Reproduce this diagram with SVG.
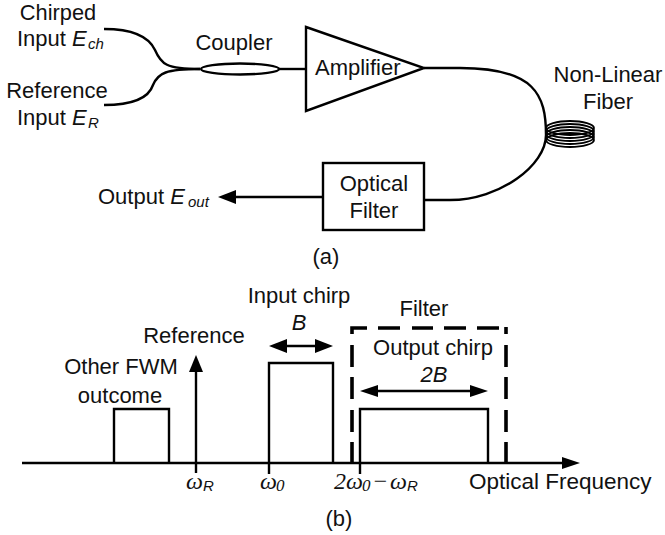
<svg xmlns="http://www.w3.org/2000/svg" width="665" height="535" viewBox="0 0 665 535">
<style>
text{font-family:"Liberation Sans",Arial,sans-serif;font-size:22px;fill:#111}
.m{text-anchor:middle}
.i{font-style:italic}
.s{font-size:15px;font-style:italic}
.g{font-family:"Liberation Serif","Times New Roman",serif;font-style:italic;font-size:24px}
.gs{font-family:"Liberation Serif","Times New Roman",serif;font-style:italic;font-size:17px}
.l{fill:none;stroke:#000;stroke-width:2.4}
.t{fill:none;stroke:#000;stroke-width:1.8}
.d{fill:none;stroke:#000;stroke-width:3.6}
.h{fill:#000;stroke:none}
</style>
<rect width="665" height="535" fill="#fff"/>
<g id="connectors">
<path class="l" d="M104 29C130 29 148 35 155 50C161 64 166 69 200 69"/>
<path class="l" d="M104 105C130 105 148 100 153 85C158 73 166 69 200 69"/>
<path class="l" d="M279 69H306"/>
<path class="l" d="M424 68H460C535 68 546 95 546 135C546 165 500 200 450 200H425"/>
<path class="l" d="M323 197H235"/>
<polygon class="h" points="218,197 236,190 236,204"/>
</g>
<g id="coupler"><ellipse class="l" cx="240" cy="69" rx="39" ry="5.5"/><text class="m" x="234" y="50">Coupler</text></g>
<g id="amplifier"><polygon points="306,27 424,68 306,111" fill="#fff" stroke="#000" stroke-width="2.4"/><text x="315" y="75">Amplifier</text></g>
<g id="fiber">
<ellipse class="t" cx="570" cy="128" rx="24" ry="7"/>
<ellipse class="t" cx="570" cy="131" rx="24" ry="7"/>
<ellipse class="t" cx="570" cy="134" rx="24" ry="7"/>
<ellipse class="t" cx="570" cy="137" rx="24" ry="7"/>
<ellipse class="t" cx="570" cy="140" rx="24" ry="7"/>
<text class="m" x="608" y="82">Non-Linear</text><text class="m" x="608" y="109">Fiber</text>
</g>
<g id="filter"><rect x="323" y="163" width="101" height="67" fill="#fff" stroke="#000" stroke-width="2.4"/><text class="m" x="374" y="191">Optical</text><text class="m" x="374" y="218">Filter</text></g>
<g id="inputs">
<text class="m" x="58" y="20" style="font-size:21.8px">Chirped</text>
<text x="17" y="46">Input <tspan class="i">E</tspan></text><text class="s" x="88" y="49">ch</text>
<text class="m" x="57" y="98">Reference</text>
<text x="17" y="125">Input <tspan class="i">E</tspan></text><text class="s" x="88" y="128">R</text>
</g>
<g id="output"><text x="98" y="204">Output <tspan class="i">E</tspan></text><text class="s" x="188" y="207">out</text></g>
<text class="m" x="326" y="264">(a)</text>
<g id="spectrum">
<path class="l" d="M22 463H565"/><polygon class="h" points="580,463 562,457 562,469"/>
<path class="l" d="M114 463V409H169V463"/>
<path class="l" d="M196 473V368"/><polygon class="h" points="196,355 189,372 203,372"/>
<path class="l" d="M269 474V363H333V463"/>
<path class="l" d="M360 474V409H488V463"/>
<path class="d" d="M352 334V328H367M378 328H400M412 328H433M444 328H466M477 328H499M506 327V334M352 345V367M352 377V399M352 410V432M352 442V464M506 345V367M506 377V399M506 410V432M506 442V464"/>
<path class="l" d="M285 346H318"/><polygon class="h" points="269,346 287,339 287,353"/><polygon class="h" points="333,346 315,339 315,353"/>
<path class="l" d="M375 391H472"/><polygon class="h" points="360,391 378,385 378,397"/><polygon class="h" points="488,391 470,385 470,397"/>
</g>
<g id="labels-b">
<text class="m" x="121" y="374">Other FWM</text><text class="m" x="120" y="403">outcome</text>
<text class="m" x="194" y="343">Reference</text>
<text class="m" x="299" y="303">Input chirp</text><text class="m i" x="299" y="330">B</text>
<text class="m" x="424" y="316">Filter</text>
<text class="m" x="433" y="355">Output chirp</text><text class="m i" x="434" y="382">2B</text>
<text class="g" x="186" y="489">ω</text><text class="s" x="203" y="491">R</text>
<text class="g" x="260" y="489">ω</text><text class="gs" x="276" y="491">0</text>
<text class="g" x="334" y="489">2ω</text><text class="gs" x="362" y="491">0</text><text class="g" x="372" y="489">−</text><text class="g" x="390" y="489">ω</text><text class="s" x="407" y="491">R</text>
<text x="469" y="489" style="font-size:22.5px">Optical Frequency</text>
<text class="m" x="339" y="526">(b)</text>
</g>
</svg>
